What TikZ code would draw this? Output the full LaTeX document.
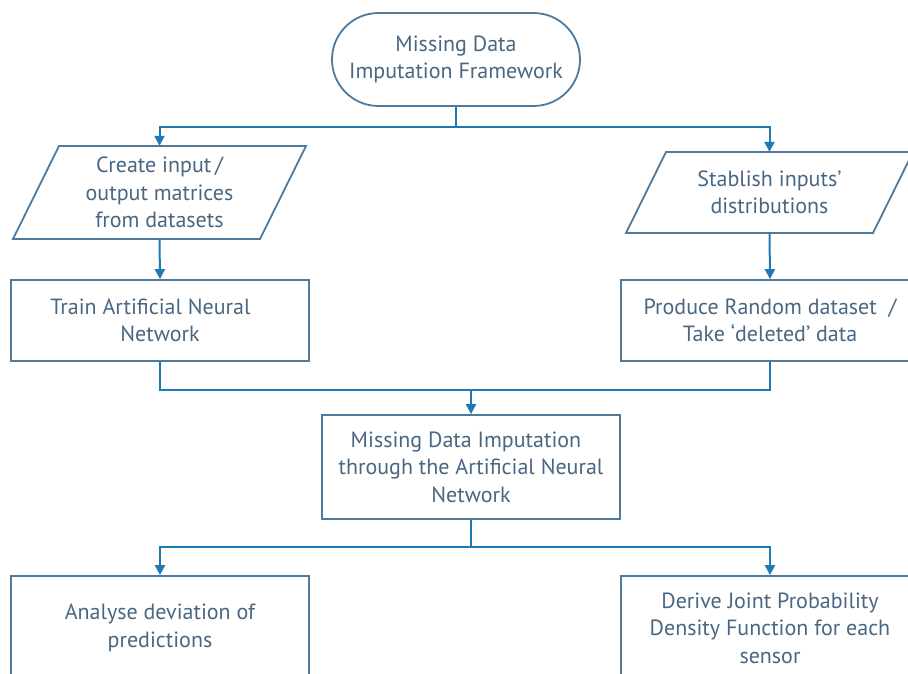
\documentclass[tikz,border=0pt]{standalone}
\usepackage{fontspec}
\setmainfont{PT Sans}
\usetikzlibrary{arrows.meta,calc}
\definecolor{boxc}{HTML}{4F7A9C}
\definecolor{linec}{HTML}{1E7AB2}
\definecolor{txtc}{HTML}{4A6782}
\begin{document}
\begin{tikzpicture}[x=1pt,y=-1pt,
  every node/.style={font=\fontsize{22}{27.5}\selectfont, text=txtc, align=center, inner sep=0pt},
  boxstyle/.style={draw=boxc, line width=1.8pt, rectangle, minimum width=298pt},
  termstyle/.style={draw=boxc, line width=1.8pt, rectangle, rounded corners=46.5pt, minimum width=248pt, minimum height=93pt},
  parastyle/.style={draw=boxc, line width=1.8pt, line join=miter},
  conn/.style={draw=linec, line width=2pt, -{Triangle[width=10pt,length=10pt]}},
  connplain/.style={draw=linec, line width=2pt}]
\useasboundingbox (0,0) rectangle (908,674);
\clip (0,0) rectangle (908,674);
\fill[white] (0,0) rectangle (908,674);
% terminal
\node[termstyle] (term) at (456,59.5) {Missing Data\\Imputation Framework};
% parallelograms
\draw[parastyle] (59,146) -- (306,146) -- (260,239) -- (13,239) -- cycle;
\node[minimum width=200pt, minimum height=93pt] (p1) at (159.5,192.5) {Create input\,/\\output matrices\\from datasets};
\draw[parastyle] (666,152) -- (913,152) -- (873,233) -- (626,233) -- cycle;
\node[minimum width=200pt, minimum height=81pt] (p2) at (769.5,192.5) {Stablish inputs’\\distributions};
% rectangles
\node[boxstyle, minimum height=81pt] (r1) at (160,320.5) {Train Artificial Neural\hspace*{19pt}\\Network};
\node[boxstyle, minimum height=81pt] (r2) at (770,320.5) {Produce Random dataset~~/\\Take ‘deleted’ data};
\node[boxstyle, minimum height=104pt] (mid) at (471,467) {Missing Data Imputation\hspace*{10pt}\\through the Artificial Neural\hspace*{10pt}\\Network};
\node[boxstyle, minimum height=104pt] (b1) at (160,628) {Analyse deviation of\\predictions};
\node[boxstyle, minimum height=104pt] (b2) at (770,628) {Derive Joint Probability\\Density Function for each\\sensor};
% connectors
\coordinate (s1) at ($(term.south)+(0,20)$);
\draw[connplain] (term.south) -- (s1);
\draw[conn] (s1) -| (p1.north);
\draw[conn] (s1) -| (p2.north);
\draw[conn] (p1.south) -- (r1.north);
\draw[conn] (p2.south) -- (r2.north);
\coordinate (m1) at (471,390);
\draw[connplain] (r1.south) |- (m1);
\draw[connplain] (r2.south) |- (m1);
\draw[conn] (m1) -- (mid.north);
\coordinate (s2) at ($(mid.south)+(0,27)$);
\draw[connplain] (mid.south) -- (s2);
\draw[conn] (s2) -| (b1.north);
\draw[conn] (s2) -| (b2.north);
\end{tikzpicture}
\end{document}
